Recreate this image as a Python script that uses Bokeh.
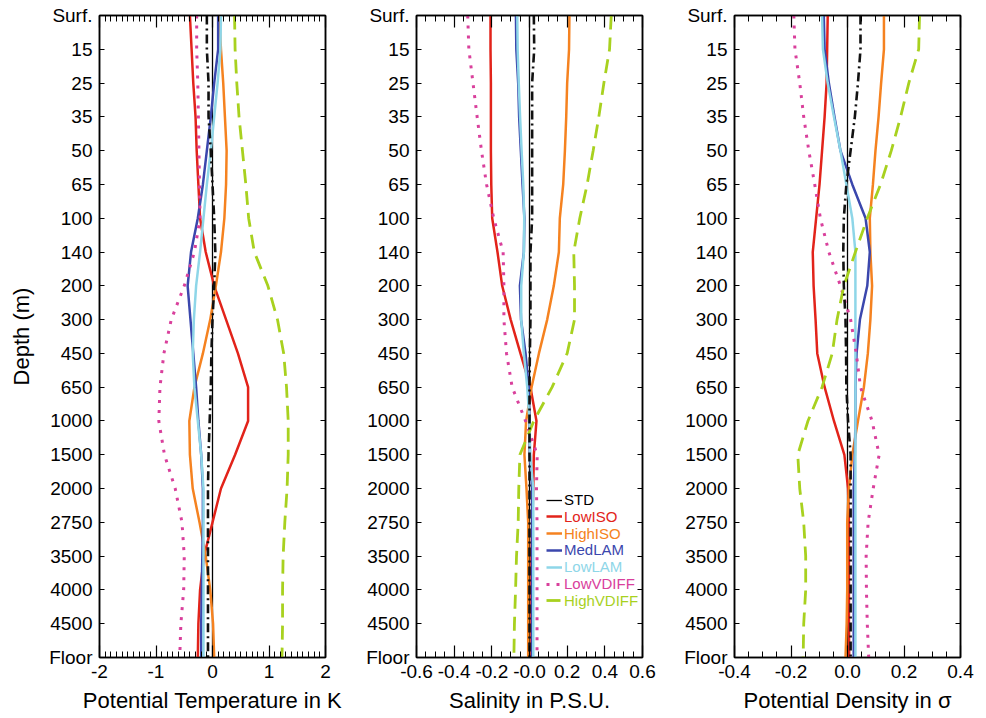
from bokeh.plotting import figure
from bokeh.models import (Range1d, FixedTicker, LinearAxis, Legend, LegendItem)
from bokeh.layouts import row
from bokeh.embed import file_html
from bokeh.resources import INLINE

# ---------------- data ----------------
depth_labels = ["Surf.", "15", "25", "35", "50", "65", "100", "140", "200", "300",
                "450", "650", "1000", "1500", "2000", "2750", "3500", "4000", "4500", "Floor"]

series_names = ["STD", "LowISO", "HighISO", "MedLAM", "LowLAM", "LowVDIFF", "HighVDIFF"]

std = [0.0, 0.0, 0.0, 0.0, 0.0, 0.0, 0.0, 0.0, 0.0, 0.0,
       0.0, 0.0, 0.0, 0.0, 0.0, 0.0, 0.0, 0.0, 0.0, 0.0]

# Potential temperature anomaly (K)
temp_lowiso = [-0.40, -0.37, -0.34, -0.30, -0.28, -0.25, -0.22, -0.12, 0.03, 0.24,
               0.45, 0.63, 0.63, 0.40, 0.15, 0.00, -0.15, -0.22, -0.25, -0.26]
temp_highiso = [0.12, 0.15, 0.19, 0.22, 0.25, 0.24, 0.21, 0.15, 0.06, -0.04,
                -0.17, -0.32, -0.41, -0.40, -0.35, -0.23, -0.12, -0.04, 0.01, 0.03]
temp_medlam = [0.10, 0.10, 0.03, -0.03, -0.10, -0.17, -0.26, -0.38, -0.44, -0.39,
               -0.34, -0.29, -0.25, -0.20, -0.17, -0.17, -0.18, -0.19, -0.20, -0.20]
temp_lowlam = [0.15, 0.14, 0.09, 0.03, -0.03, -0.10, -0.16, -0.22, -0.29, -0.33,
               -0.35, -0.32, -0.26, -0.20, -0.16, -0.16, -0.16, -0.16, -0.16, -0.16]
temp_lowvdiff = [-0.28, -0.28, -0.26, -0.25, -0.24, -0.23, -0.22, -0.32, -0.50, -0.73,
                 -0.86, -0.93, -0.95, -0.85, -0.66, -0.54, -0.50, -0.51, -0.56, -0.58]
temp_highvdiff = [0.39, 0.40, 0.43, 0.47, 0.53, 0.59, 0.64, 0.74, 0.98, 1.15,
                  1.26, 1.31, 1.34, 1.34, 1.32, 1.28, 1.25, 1.24, 1.24, 1.23]
temp_dashdot = [-0.10, -0.10, -0.07, -0.07, -0.03, 0.00, 0.03, 0.05, 0.03, 0.00,
                -0.02, -0.03, -0.05, -0.07, -0.08, -0.08, -0.08, -0.08, -0.08, -0.08]

# Salinity anomaly (P.S.U.)
sal_lowiso = [-0.207, -0.207, -0.205, -0.205, -0.205, -0.203, -0.198, -0.170, -0.145, -0.100,
              -0.048, 0.005, 0.037, 0.023, 0.020, 0.015, 0.010, 0.010, 0.010, 0.010]
sal_highiso = [0.212, 0.210, 0.200, 0.195, 0.188, 0.179, 0.161, 0.156, 0.129, 0.094,
               0.050, 0.011, -0.018, -0.027, -0.016, -0.007, -0.007, -0.007, -0.007, -0.007]
sal_medlam = [-0.072, -0.070, -0.060, -0.055, -0.046, -0.037, -0.027, -0.030, -0.051, -0.045,
              -0.021, -0.004, 0.000, 0.002, 0.014, 0.014, 0.014, 0.014, 0.014, 0.014]
sal_lowlam = [-0.065, -0.063, -0.057, -0.050, -0.042, -0.033, -0.028, -0.030, -0.044, -0.044,
              -0.030, -0.012, 0.000, 0.004, 0.020, 0.020, 0.020, 0.020, 0.020, 0.020]
sal_lowvdiff = [-0.328, -0.322, -0.300, -0.278, -0.255, -0.228, -0.190, -0.140, -0.136, -0.136,
                -0.122, -0.092, -0.021, 0.041, 0.037, 0.040, 0.040, 0.040, 0.040, 0.040]
sal_highvdiff = [0.434, 0.425, 0.395, 0.368, 0.338, 0.306, 0.267, 0.235, 0.239, 0.239,
                 0.200, 0.120, 0.023, -0.051, -0.057, -0.060, -0.069, -0.074, -0.080, -0.083]
sal_dashdot = [0.023, 0.025, 0.014, 0.014, 0.014, 0.014, 0.014, 0.005, 0.005, 0.005,
               0.002, 0.000, 0.000, 0.000, 0.000, 0.000, 0.000, 0.000, 0.000, 0.000]

# Potential density anomaly (sigma)
dens_lowiso = [-0.070, -0.072, -0.074, -0.081, -0.090, -0.099, -0.111, -0.123, -0.120, -0.113,
               -0.107, -0.081, -0.048, -0.011, 0.002, 0.005, 0.005, 0.005, 0.005, 0.006]
dens_highiso = [0.129, 0.129, 0.119, 0.110, 0.099, 0.090, 0.079, 0.081, 0.087, 0.081,
                0.072, 0.058, 0.037, 0.017, 0.005, -0.001, -0.001, -0.001, -0.003, -0.007]
dens_medlam = [-0.084, -0.081, -0.066, -0.046, -0.025, 0.017, 0.064, 0.079, 0.070, 0.044,
               0.032, 0.028, 0.028, 0.026, 0.022, 0.022, 0.022, 0.022, 0.022, 0.022]
dens_lowlam = [-0.090, -0.087, -0.070, -0.048, -0.025, -0.004, 0.017, 0.028, 0.028, 0.028,
               0.028, 0.028, 0.028, 0.028, 0.028, 0.028, 0.028, 0.028, 0.028, 0.028]
dens_lowvdiff = [-0.190, -0.186, -0.169, -0.155, -0.137, -0.116, -0.096, -0.066, -0.025, 0.011,
                 0.031, 0.046, 0.087, 0.112, 0.091, 0.073, 0.066, 0.067, 0.070, 0.075]
dens_highvdiff = [0.255, 0.252, 0.217, 0.188, 0.155, 0.117, 0.070, 0.028, -0.013, -0.037,
                  -0.054, -0.090, -0.140, -0.176, -0.169, -0.155, -0.148, -0.148, -0.155, -0.157]
dens_dashdot = [0.046, 0.046, 0.037, 0.026, 0.011, -0.004, -0.013, -0.015, -0.013, -0.007,
                -0.005, -0.004, 0.002, 0.011, 0.011, 0.011, 0.011, 0.011, 0.011, 0.011]

# axis tick values / labels
temp_ticks = [-2, -1, 0, 1, 2]
temp_tick_labels = ["-2", "-1", "0", "1", "2"]
sal_ticks = [-0.6, -0.4, -0.2, 0, 0.2, 0.4, 0.6]
sal_tick_labels = ["-0.6", "-0.4", "-0.2", "-0.0", "0.2", "0.4", "0.6"]
dens_ticks = [-0.4, -0.2, 0, 0.2, 0.4]
dens_tick_labels = ["-0.4", "-0.2", "0.0", "0.2", "0.4"]

# ---------------- styling ----------------
FONT = "Liberation Sans"
colors = {
    "STD": "#000000",
    "LowISO": "#e2231a",
    "HighISO": "#f58220",
    "MedLAM": "#3b47ad",
    "LowLAM": "#8ed6e8",
    "LowVDIFF": "#d9409c",
    "HighVDIFF": "#a8d11f",
}

y_idx = list(range(len(depth_labels)))


def make_minor(ticks, n):
    out = []
    for a, b in zip(ticks[:-1], ticks[1:]):
        step = (b - a) / n
        for k in range(n + 1):
            out.append(round(a + k * step, 6))
    return sorted(set(out))


def make_panel(xr, ticks, tick_labels, nminor, xlabel, series, dashdot, show_ylabel,
               left_border, legend=False):
    p = figure(width=left_border + 226 + 20, height=717, x_range=Range1d(xr[0], xr[1]),
               y_range=Range1d(len(depth_labels) - 1, 0),
               output_backend="svg", toolbar_location=None,
               min_border_left=left_border, min_border_right=20, min_border_top=15,
               min_border_bottom=60, x_axis_location=None, y_axis_location=None)
    p.xgrid.visible = False
    p.ygrid.visible = False
    p.outline_line_color = "black"
    p.outline_line_width = 1.5
    p.background_fill_color = "white"
    p.border_fill_color = "white"

    minor = make_minor(ticks, nminor)
    xt = FixedTicker(ticks=ticks, minor_ticks=minor)
    yt = FixedTicker(ticks=y_idx, minor_ticks=[])

    for place in ("below", "above"):
        ax = LinearAxis(ticker=xt)
        ax.major_tick_in = 12
        ax.major_tick_out = 0
        ax.minor_tick_in = 6
        ax.minor_tick_out = 0
        ax.axis_line_color = "black"
        ax.axis_line_width = 1.5
        ax.major_tick_line_width = 1.2
        ax.minor_tick_line_width = 1.0
        if place == "below":
            ax.major_label_overrides = {t: l for t, l in zip(ticks, tick_labels)}
            ax.major_label_text_font = FONT
            ax.major_label_text_font_size = "19px"
            ax.major_label_text_color = "black"
            ax.major_label_standoff = 7
            ax.axis_label = xlabel
            ax.axis_label_text_font = FONT
            ax.axis_label_text_font_size = "22px"
            ax.axis_label_text_font_style = "normal"
            ax.axis_label_text_color = "black"
            ax.axis_label_standoff = 7
        else:
            ax.major_label_overrides = {t: "" for t in ticks}
            ax.major_label_standoff = 0
            ax.major_label_text_font_size = "0px"
        p.add_layout(ax, place)

    for place in ("left", "right"):
        ay = LinearAxis(ticker=yt)
        ay.major_tick_in = 5
        ay.major_tick_out = 0
        ay.minor_tick_in = 0
        ay.minor_tick_out = 0
        ay.axis_line_color = "black"
        ay.axis_line_width = 1.5
        ay.major_tick_line_width = 1.2
        if place == "left":
            ay.major_label_overrides = {i: lab for i, lab in enumerate(depth_labels)}
            ay.major_label_text_font = FONT
            ay.major_label_text_font_size = "19px"
            ay.major_label_text_color = "black"
            ay.major_label_standoff = 7
            if show_ylabel:
                ay.axis_label = "Depth (m)"
                ay.axis_label_text_font = FONT
                ay.axis_label_text_font_size = "22px"
                ay.axis_label_text_font_style = "normal"
                ay.axis_label_text_color = "black"
                ay.axis_label_standoff = 12
        else:
            ay.major_label_overrides = {i: "" for i in y_idx}
            ay.major_label_standoff = 0
            ay.major_label_text_font_size = "0px"
        p.add_layout(ay, place)

    renderers = {}
    renderers["STD"] = p.line(series["STD"], y_idx, line_color=colors["STD"], line_width=1.3)
    dashes = {"LowVDIFF": "3 7", "HighVDIFF": "14 8"}
    widths = {"LowVDIFF": 3, "HighVDIFF": 2.8}
    for name in series_names[1:]:
        renderers[name] = p.line(series[name], y_idx, line_color=colors[name],
                                 line_width=widths.get(name, 2.5),
                                 line_dash=dashes.get(name, "solid"))
    p.line(dashdot, y_idx, line_color="#111111", line_width=2.6, line_dash="9 4 2 4")

    if legend:
        for k, name in enumerate(series_names):
            lg = Legend(items=[LegendItem(label=name, renderers=[renderers[name]])],
                        location=(130, 149 - k * 16.8),
                        label_text_color=colors[name],
                        label_text_font=FONT, label_text_font_size="15px",
                        background_fill_alpha=0, border_line_alpha=0,
                        padding=0, margin=0, spacing=0,
                        glyph_width=16, glyph_height=12, label_height=12,
                        label_standoff=2)
            p.add_layout(lg)
    return p


p1 = make_panel((-2, 2), temp_ticks, temp_tick_labels, 10, "Potential Temperature in K",
                {"STD": std, "LowISO": temp_lowiso, "HighISO": temp_highiso,
                 "MedLAM": temp_medlam, "LowLAM": temp_lowlam,
                 "LowVDIFF": temp_lowvdiff, "HighVDIFF": temp_highvdiff},
                temp_dashdot, True, 99)
p2 = make_panel((-0.6, 0.6), sal_ticks, sal_tick_labels, 4, "Salinity in P.S.U.",
                {"STD": std, "LowISO": sal_lowiso, "HighISO": sal_highiso,
                 "MedLAM": sal_medlam, "LowLAM": sal_lowlam,
                 "LowVDIFF": sal_lowvdiff, "HighVDIFF": sal_highvdiff},
                sal_dashdot, False, 71, legend=True)
p3 = make_panel((-0.4, 0.4), dens_ticks, dens_tick_labels, 4, "Potential Density in σ",
                {"STD": std, "LowISO": dens_lowiso, "HighISO": dens_highiso,
                 "MedLAM": dens_medlam, "LowLAM": dens_lowlam,
                 "LowVDIFF": dens_lowvdiff, "HighVDIFF": dens_highvdiff},
                dens_dashdot, False, 72)

layout = row(p1, p2, p3)
open("out.html", "w").write(file_html(layout, INLINE))
